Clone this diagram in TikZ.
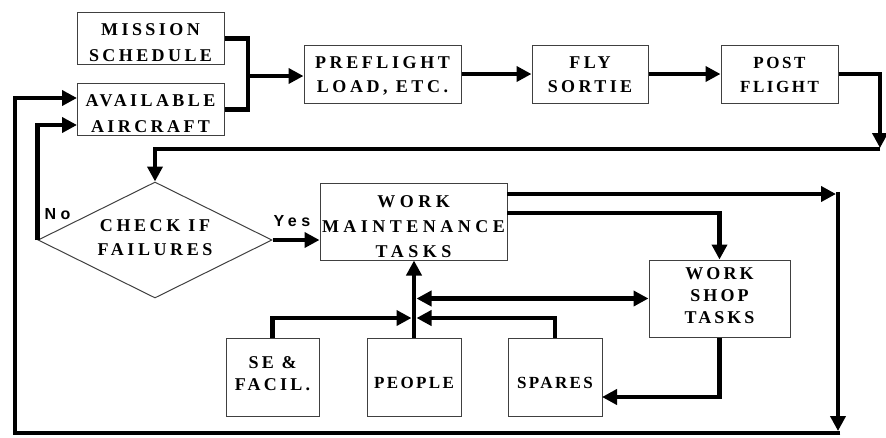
\documentclass[tikz,border=0pt]{standalone}
\usepackage{fontspec}
\setmainfont{Liberation Serif}
\newfontfamily\boxfont{Liberation Serif}
\newfontfamily\lblfont{Liberation Sans}[LetterSpace=28]
\usetikzlibrary{shapes.geometric,arrows.meta}
% text block lowered by #1 inside its box, lines given in #2
\newcommand\boxtext[2]{\raisebox{-#1}[\height][\depth]{\begin{tabular}{@{}c@{}}#2\end{tabular}}}
\begin{document}
\begin{tikzpicture}[x=1pt,y=-1pt,
  frame/.style={draw=black!75, line width=1pt, fill=white, inner sep=0pt},
  box/.style n args={3}{frame,
    font=\boxfont\bfseries\fontsize{#1}{#2}\selectfont\addfontfeature{LetterSpace=#3}},
  tip/.tip={Triangle[length=15pt,width=15pt]},
  line/.style={line width=4.5pt, line join=miter},
  flow/.style={line, -tip},
  both/.style={line, tip-tip},
  lbl/.style={font=\lblfont\bfseries\fontsize{16}{18}\selectfont, inner sep=0pt}]
\useasboundingbox (0,0) rectangle (886,437);
% boxes
\node[box={18}{26}{19}, minimum width=147pt, minimum height=51pt] (ms) at (150.5,38.5) {\boxtext{5pt}{MISSION\\SCHEDULE}};
\node[box={18}{26}{19}, minimum width=147pt, minimum height=51pt] (aa) at (150.5,109.5) {\boxtext{5pt}{AVAILABLE\\AIRCRAFT}};
\node[box={18}{24}{20}, minimum width=157pt, minimum height=58pt] (pre) at (382.5,74) {\boxtext{1.5pt}{PREFLIGHT\\LOAD, ETC.}};
\node[box={18}{24}{19}, minimum width=116pt, minimum height=58pt] (fly) at (590,74) {\boxtext{1.5pt}{FLY\\SORTIE}};
\node[box={17}{24}{15}, minimum width=117pt, minimum height=58pt] (post) at (779.5,74) {\boxtext{1.5pt}{POST\\FLIGHT}};
\node[frame, diamond, minimum width=234pt, minimum height=116pt] (chk) at (155,240) {};
\node[box={18}{24}{20}, draw=none, fill=none] (chkt) at (chk.center) {\boxtext{-1.5pt}{CHECK IF\\FAILURES}};
\node[box={18}{25}{25}, minimum width=187pt, minimum height=77pt] (wm) at (413.5,221.5) {\boxtext{5.5pt}{WORK\\MAINTENANCE\\TASKS}};
\node[box={18}{22}{17}, minimum width=141pt, minimum height=77pt] (ws) at (719.5,298.5) {\boxtext{-1pt}{WORK\\SHOP\\TASKS}};
\node[box={18}{22}{18}, minimum width=93pt, minimum height=78pt] (se) at (272.5,377) {\boxtext{-1.5pt}{SE \&\\FACIL.}};
\node[box={17}{22}{14}, minimum width=94pt, minimum height=78pt] (ppl) at (414,377) {\boxtext{7pt}{PEOPLE}};
\node[box={17}{22}{14}, minimum width=94pt, minimum height=78pt] (spr) at (555,377) {\boxtext{7pt}{SPARES}};
% labels
\node[lbl] (no) at (57.5,214) {No};
\node[lbl] (yes) at (292,221.5) {Yes};
% coordinates
\coordinate (mj) at (248,76);
\coordinate (pr) at (880,148);
\coordinate (pl) at (155,149);
\coordinate (prb) at (880,149);
\coordinate (aa1) at (77,98);
\coordinate (aa2) at (77,125);
\coordinate (w1) at (507,194);
\coordinate (r1) at (836,194);
\coordinate (rt) at (838,191.75);
\coordinate (rb) at (838,431);
\coordinate (b0) at (840.25,433);
\coordinate (b1) at (15,433);
\coordinate (w2) at (507,213);
\coordinate (jd) at (416.5,298.5);
\coordinate (jl) at (411.5,318);
\coordinate (jr) at (416.5,318);
\coordinate (sp1) at (602,397);
% connectors
\draw[line] (ms.east) -| (mj) |- (aa.east);
\draw[flow] (mj) -- (mj -| pre.west);
\draw[flow] (pre.east) -- (fly.west);
\draw[flow] (fly.east) -- (post.west);
\draw[flow] (post.east) -| (pr);
\draw[flow] (prb) -- (pl) -- (chk.north);
\draw[flow] (chk.west) |- (aa2);
\draw[flow] (chk.east) -- (chk.east -| wm.west);
\draw[flow] (w1) -- (r1);
\draw[flow] (rt) -- (rb);
\draw[flow] (b0) -- (b1) |- (aa1);
\draw[flow] (w2) -| (ws.north);
\draw[both] (jd) -- (ws.west);
\draw[flow] (ppl.north) -- (ppl.north |- wm.south);
\draw[flow] (se.north) |- (jl);
\draw[flow] (spr.north) |- (jr);
\draw[flow] (ws.south) |- (sp1);
\end{tikzpicture}
\end{document}
